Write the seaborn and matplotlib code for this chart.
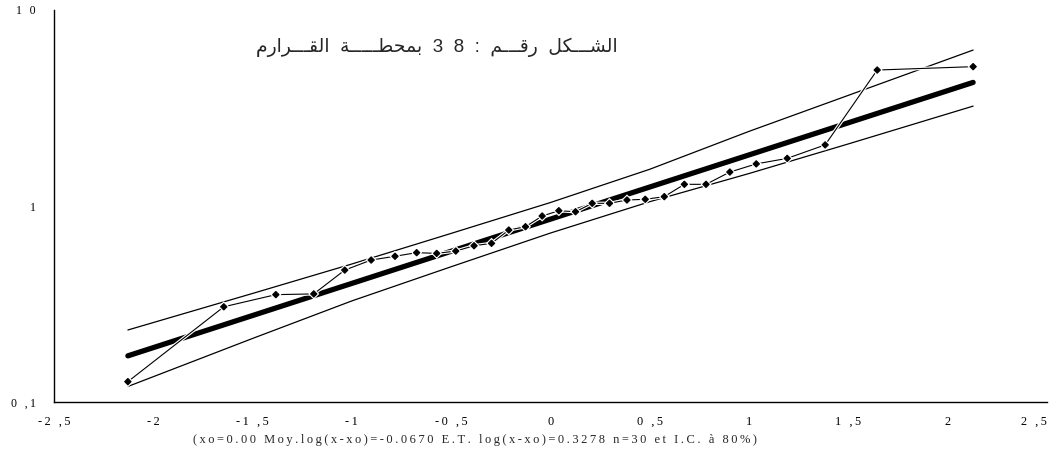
import numpy as np
import pandas as pd
import matplotlib
matplotlib.use("Agg")
import matplotlib.pyplot as plt
import matplotlib.patheffects as pe
from matplotlib.ticker import FixedLocator, FixedFormatter, NullFormatter
import seaborn as sns

# Reduced normal variable (Hazen plotting positions, n = 30)
u_obs = [-2.128, -1.645, -1.383, -1.192, -1.036, -0.903, -0.783, -0.674,
         -0.573, -0.477, -0.385, -0.297, -0.210, -0.126, -0.042,
         0.042, 0.126, 0.210, 0.297, 0.385, 0.477, 0.573, 0.674,
         0.783, 0.903, 1.036, 1.192, 1.383, 1.645, 2.128]
# Observed values (sorted)
x_obs = [0.127, 0.306, 0.353, 0.356, 0.471, 0.530, 0.554, 0.578,
         0.573, 0.589, 0.627, 0.645, 0.754, 0.784, 0.889,
         0.946, 0.935, 1.032, 1.032, 1.073, 1.082, 1.116, 1.290,
         1.290, 1.490, 1.640, 1.750, 2.050, 4.940, 5.140]

# Fitted log-normal law: log10(x - xo) = mean + sd * u
xo = 0.00
log_mean = -0.0670
log_sd = 0.3278
u_fit = [-2.128, 2.128]

# 80 % confidence band
u_band = [-2.128, -1.5, -1.0, -0.5, 0.0, 0.5, 1.0, 1.5, 2.128]
band_upper = [0.233, 0.358, 0.506, 0.725, 1.042, 1.540, 2.404, 3.670, 6.246]
band_lower = [0.120, 0.211, 0.328, 0.490, 0.728, 1.052, 1.465, 2.074, 3.233]

x_ticks = [-2.5, -2.0, -1.5, -1.0, -0.5, 0.0, 0.5, 1.0, 1.5, 2.0, 2.5]
x_tick_labels = ["-2 ,5", "-2", "-1 ,5", "-1", "-0 ,5", "0", "0 ,5", "1", "1 ,5", "2", "2 ,5"]
y_ticks = [0.1, 1, 10]
y_tick_labels = ["0 ,1", "1", "1 0"]

title_words = ["الشـــكل", "رقـــم", ":", "3  8", "بمحطـــــة", "القـــرارم"]
subtitle = "(xo=0.00 Moy.log(x-xo)=-0.0670 E.T. log(x-xo)=0.3278 n=30 et I.C. à 80%)"

# ---- minimal Arabic contextual shaping (presentation forms, visual order)
FORMS = {
    'ا': ('\uFE8D', '\uFE8E', None, None),
    'ب': ('\uFE8F', '\uFE90', '\uFE91', '\uFE92'),
    'ة': ('\uFE93', '\uFE94', None, None),
    'ح': ('\uFEA1', '\uFEA2', '\uFEA3', '\uFEA4'),
    'ر': ('\uFEAD', '\uFEAE', None, None),
    'ش': ('\uFEB5', '\uFEB6', '\uFEB7', '\uFEB8'),
    'ط': ('\uFEC1', '\uFEC2', '\uFEC3', '\uFEC4'),
    'ق': ('\uFED5', '\uFED6', '\uFED7', '\uFED8'),
    'ك': ('\uFED9', '\uFEDA', '\uFEDB', '\uFEDC'),
    'ل': ('\uFEDD', '\uFEDE', '\uFEDF', '\uFEE0'),
    'م': ('\uFEE1', '\uFEE2', '\uFEE3', '\uFEE4'),
}
TATWEEL = '\u0640'


def joins_next(c):
    return c == TATWEEL or (c in FORMS and FORMS[c][2] is not None)


def joins_prev(c):
    return c == TATWEEL or c in FORMS


def shape_word(word):
    if not any(c in FORMS for c in word):
        return word
    out = []
    for i, c in enumerate(word):
        if c not in FORMS:
            out.append(c)
            continue
        prev = word[i - 1] if i > 0 else ''
        nxt = word[i + 1] if i + 1 < len(word) else ''
        cp = bool(prev) and joins_next(prev)
        cn = bool(nxt) and joins_prev(nxt) and FORMS[c][2] is not None
        iso, fin, ini, med = FORMS[c]
        out.append(med if (cp and cn) else fin if cp else ini if cn else iso)
    return ''.join(reversed(out))


def spread(s, sep='\u2009'):
    return sep.join(s)


title_visual = "  ".join(shape_word(w) for w in reversed(title_words))

# ---- figure
sns.set_style("white")
plt.rcParams['font.family'] = ['Liberation Serif', 'DejaVu Serif']

fig = plt.figure(figsize=(10.52, 4.61), dpi=100)
ax = fig.add_axes([54 / 1052, 59 / 461, (1047 - 54) / 1052, (451 - 59) / 461])

band_df = pd.DataFrame({"u": u_band, "upper": band_upper, "lower": band_lower})
fit_df = pd.DataFrame({"u": u_fit,
                       "x": [xo + 10 ** (log_mean + log_sd * v) for v in u_fit]})
obs_df = pd.DataFrame({"u": u_obs, "x": x_obs})

sns.lineplot(data=band_df, x="u", y="upper", ax=ax, color="black", lw=0.9,
             estimator=None, sort=False, zorder=2)
sns.lineplot(data=band_df, x="u", y="lower", ax=ax, color="black", lw=0.9,
             estimator=None, sort=False, zorder=2)
sns.lineplot(data=fit_df, x="u", y="x", ax=ax, color="black", lw=3.8,
             estimator=None, sort=False, zorder=3,
             solid_capstyle="round")
sns.lineplot(data=obs_df, x="u", y="x", ax=ax, color="black", lw=0.8,
             estimator=None, sort=False, zorder=4,
             marker="D", markersize=3.3, markeredgecolor="black",
             path_effects=[pe.Stroke(linewidth=2.4, foreground="white"),
                           pe.Normal()])

ax.set_yscale("log")
ax.set_xlim(-2.5, 2.5)
ax.set_ylim(0.1, 10)
ax.set_xlabel("")
ax.set_ylabel("")

ax.xaxis.set_major_locator(FixedLocator(x_ticks))
ax.xaxis.set_major_formatter(FixedFormatter([spread(t) for t in x_tick_labels]))
ax.yaxis.set_major_locator(FixedLocator(y_ticks))
ax.yaxis.set_major_formatter(FixedFormatter([spread(t) for t in y_tick_labels]))
ax.yaxis.set_minor_locator(FixedLocator(
    [k * 10 ** e for e in (-1, 0) for k in range(2, 10)]))
ax.yaxis.set_minor_formatter(NullFormatter())

for side in ("top", "right"):
    ax.spines[side].set_visible(False)
for side in ("left", "bottom"):
    ax.spines[side].set_color("black")
    ax.spines[side].set_linewidth(1.0)

ax.tick_params(axis="y", which="major", direction="inout", length=10, width=1,
               pad=8, labelsize=8.5, colors="black")
ax.tick_params(axis="y", which="minor", direction="out", length=4.5, width=0.9,
               colors="black")
ax.tick_params(axis="x", which="major", direction="inout", length=6, width=1,
               pad=7, labelsize=8.8, colors="black")
ax.grid(False)
# keep the last tick label inside the canvas
ax.get_xticklabels()[-1].set_horizontalalignment("right")

ax.text(0.386, 0.905, title_visual, transform=ax.transAxes, ha="center",
        va="center", fontsize=13.5, family=["Liberation Sans", "DejaVu Sans"])
fig.text(475 / 1052, 1 - 440 / 461, spread(subtitle), ha="center", va="center",
         fontsize=9)

fig.savefig("out.png", dpi=100, facecolor="white")
